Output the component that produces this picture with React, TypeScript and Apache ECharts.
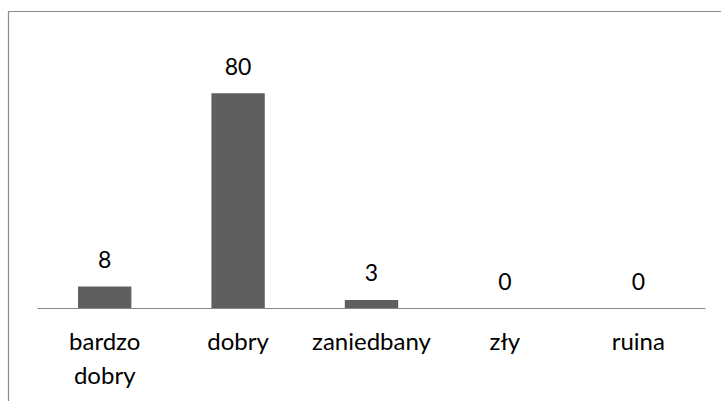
import React, { useEffect, useRef } from "react";
import * as echarts from "echarts";

const categories = ["bardzo dobry", "dobry", "zaniedbany", "zły", "ruina"];
const values = [8, 80, 3, 0, 0];

export default function App() {
  const ref = useRef<HTMLDivElement>(null);
  useEffect(() => {
    if (!ref.current) return;
    const chart = echarts.init(ref.current, null, { renderer: "svg" });
    chart.setOption({
      animation: false,
      backgroundColor: "#ffffff",
      textStyle: { fontFamily: "Lato" },
      graphic: [
        {
          type: "rect",
          shape: { x: 8.5, y: 11.5, width: 900, height: 600 },
          style: { fill: "none", stroke: "#8c8c8c", lineWidth: 1.2 },
          silent: true,
          z: -1,
        },
      ],
      grid: { left: 38, right: 16, top: 39.6, bottom: 93, containLabel: false },
      xAxis: {
        type: "category",
        data: categories,
        axisLine: { lineStyle: { color: "#868686", width: 1.2 } },
        axisTick: { show: false },
        axisLabel: {
          interval: 0,
          color: "#000000",
          fontFamily: "Lato",
          fontSize: 24,
          lineHeight: 34,
          margin: 15,
          formatter: (v: string) => v.replace(" ", "\n"),
        },
      },
      yAxis: {
        type: "value",
        min: 0,
        max: 100,
        show: false,
        splitLine: { show: false },
      },
      series: [
        {
          type: "bar",
          data: values,
          barWidth: "40%",
          itemStyle: { color: "#5f5f5f" },
          label: {
            show: true,
            position: "top",
            distance: 16,
            color: "#000000",
            fontFamily: "Lato",
            fontSize: 23,
          },
        },
      ],
    });
    return () => chart.dispose();
  }, []);
  return (
    <div
      ref={ref}
      style={{ position: "fixed", left: 0, top: 0, width: 721, height: 401 }}
    />
  );
}
